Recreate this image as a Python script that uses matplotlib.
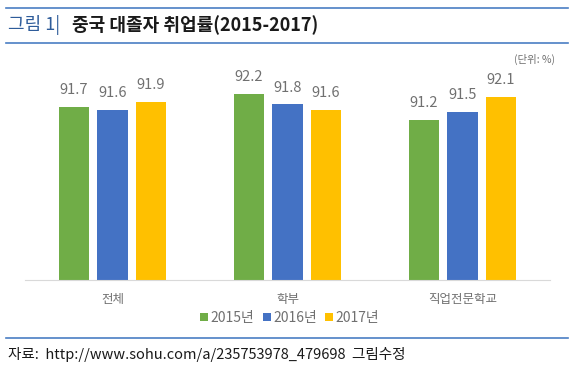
import matplotlib.pyplot as plt
from matplotlib.lines import Line2D
import numpy as np

plt.rcParams['font.family'] = ['Noto Sans CJK KR', 'DejaVu Sans']

categories = ['전체', '학부', '직업전문학교']
years = ['2015년', '2016년', '2017년']
values = {
    '2015년': [91.7, 92.2, 91.2],
    '2016년': [91.6, 91.8, 91.5],
    '2017년': [91.9, 91.6, 92.1],
}
colors = ['#70AD47', '#4472C4', '#FFC000']

W, H = 574, 372
fig = plt.figure(figsize=(W / 100, H / 100), dpi=100)

# axes box in pixel terms
left, right, bottom, top = 25, 550, 280, 73.5
ax = fig.add_axes([left / W, 1 - bottom / H, (right - left) / W, (bottom - top) / H])

x = np.arange(len(categories))
step = 0.22
width = 0.177
for i, yr in enumerate(years):
    pos = x + (i - 1) * step
    bars = ax.bar(pos, values[yr], width, bottom=0, color=colors[i], label=yr)
    for p, v in zip(pos, values[yr]):
        ax.text(p, v + 0.38, f'{v:.1f}', ha='center', va='bottom',
                fontsize=10.5, color='#707070')

ax.set_ylim(85, 93)
ax.set_xlim(-0.5, 2.5)
for s in ['top', 'right', 'left']:
    ax.spines[s].set_visible(False)
ax.spines['bottom'].set_color('#D9D9D9')
ax.set_yticks([])
ax.set_xticks(x)
ax.set_xticklabels(categories, fontsize=9, color='#707070')
ax.tick_params(axis='x', length=0, pad=9)

leg = fig.legend(loc='center', bbox_to_anchor=(290 / W, 1 - 318 / H), ncol=3,
                 frameon=False, fontsize=10, handlelength=0.55, handleheight=0.55,
                 handletextpad=0.2, columnspacing=0.6)
for t in leg.get_texts():
    t.set_color('#707070')

# header / footer rules
for yy in [7.5, 43, 338]:
    fig.add_artist(Line2D([6 / W, 568 / W], [1 - yy / H, 1 - yy / H],
                          color='#4A7EC4', lw=1.2))

fig.text(8 / W, 1 - 25 / H, '그림 1|', fontsize=13, color='#2E5C9A',
         va='center', ha='left')
fig.text(72 / W, 1 - 25 / H, '중국 대졸자 취업률(2015-2017)', fontsize=13,
         fontweight='bold', color='#1a1a1a', va='center', ha='left')
fig.text(555 / W, 1 - 59 / H, '(단위: %)', fontsize=7.5, color='#707070',
         va='center', ha='right')
fig.text(8 / W, 1 - 355 / H, '자료:  http://www.sohu.com/a/235753978_479698  그림수정',
         fontsize=10.5, color='#1a1a1a', va='center', ha='left')

fig.savefig('out.png', dpi=100)
